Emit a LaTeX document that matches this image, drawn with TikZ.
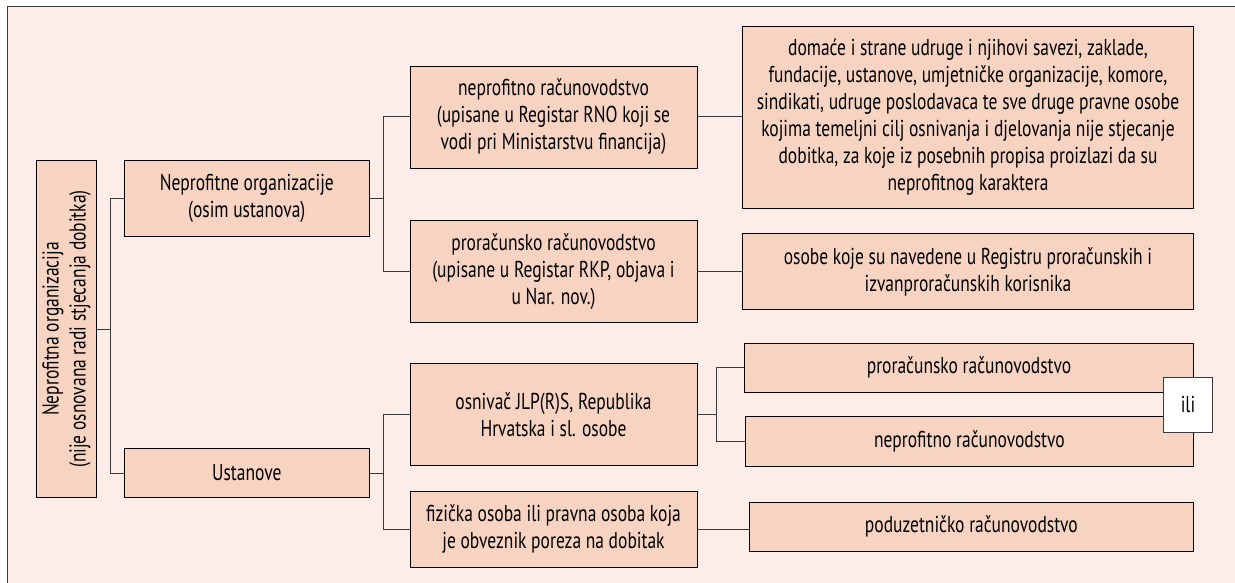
\documentclass[tikz,border=0pt]{standalone}
\usepackage{fontspec}
\setmainfont{PT Sans}[FakeStretch=0.76]
\definecolor{bgpink}{HTML}{FCEDE8}
\definecolor{boxfill}{HTML}{F7D4C2}
\definecolor{linegray}{HTML}{3A3A3A}
\tikzset{
  box/.style={draw=black, fill=boxfill, line width=0.8pt, inner sep=0pt, align=center,
    font=\fontsize{23}{27}\selectfont},
  orbox/.style={draw=linegray, fill=white, line width=0.8pt, inner sep=0pt, align=center,
    font=\fontsize{23}{27}\selectfont},
  conn/.style={draw=linegray, line width=1pt},
}
\begin{document}
\begin{tikzpicture}[x=1pt,y=-1pt]
\useasboundingbox (0,0) rectangle (1235,583);
\fill[bgpink] (7.5,6.5) rectangle (1235,583);
\draw[linegray, line width=1.2pt] (1235,6.5) -- (7.5,6.5) -- (7.5,583);

% level 0
\node[box, minimum width=60.2, minimum height=336.6] (root) at (66.6,329)
  {\rotatebox{90}{\begin{tabular}{@{}c@{}}Neprofitna organizacija\\(nije osnovana radi stjecanja dobitka)\end{tabular}}};

% level 1
\node[box, minimum width=245, minimum height=75.3] (npo) at (246.8,198.3)
  {Neprofitne organizacije\\(osim ustanova)};
\node[box, minimum width=245, minimum height=48.6] (ust) at (246.8,473) {Ustanove};

% level 2
\node[box, minimum width=287, minimum height=102] (nr) at (553.5,117)
  {neprofitno računovodstvo\\(upisane u Registar RNO koji se\\vodi pri Ministarstvu financija)};
\node[box, minimum width=287, minimum height=101.8] (pr) at (553.5,271.6)
  {proračunsko računovodstvo\\(upisane u Registar RKP, objava i\\u Nar. nov.)};
\node[box, minimum width=287, minimum height=102.4] (osn) at (553.5,414.5)
  {osnivač JLP(R)S, Republika\\Hrvatska i sl. osobe};
\node[box, minimum width=287, minimum height=76.3] (fiz) at (553.5,529.2)
  {fizička osoba ili pravna osoba koja\\je obveznik poreza na dobitak};

% level 3
\node[box, minimum width=451.4, minimum height=182.3] (dom) at (968,117.2)
  {domaće i strane udruge i njihovi savezi, zaklade,\\fundacije, ustanove, umjetničke organizacije, komore,\\sindikati, udruge poslodavaca te sve druge pravne osobe\\kojima temeljni cilj osnivanja i djelovanja nije stjecanje\\dobitka, za koje iz posebnih propisa proizlazi da su\\neprofitnog karaktera};
\node[box, minimum width=451.4, minimum height=76.2] (oso) at (968,271.4)
  {osobe koje su navedene u Registru proračunskih i\\izvanproračunskih korisnika};
\node[box, minimum width=449.4, minimum height=49] (pr2) at (969,367.8)
  {proračunsko računovodstvo};
\node[box, minimum width=448.7, minimum height=49.3] (nr2) at (969.35,441.35)
  {neprofitno računovodstvo};
\node[box, minimum width=444.7, minimum height=49] (pod) at (971.35,526.8)
  {poduzetničko računovodstvo};
\node[orbox, minimum width=49.4, minimum height=54.7] (ili) at (1188,404.7) {ili};

% bus coordinates
\coordinate (b1) at (110,0);
\coordinate (b2) at (383,0);
\coordinate (b3) at (716,0);

% connectors
\draw[conn] (root.east) -- (root.east -| b1);
\draw[conn] (npo.west) -- (npo.west -| b1) |- (ust.west);
\draw[conn] (npo.east) -- (npo.east -| b2);
\draw[conn] (nr.west) -- (nr.west -| b2) |- (pr.west);
\draw[conn] (ust.east) -- (ust.east -| b2);
\draw[conn] (osn.west) -- (osn.west -| b2) |- (fiz.west);
\draw[conn] (nr.east) -- (nr.east -| dom.west);
\draw[conn] (pr.east) -- (pr.east -| oso.west);
\draw[conn] (osn.east) -- (osn.east -| b3);
\draw[conn] (pr2.west) -- (pr2.west -| b3) |- (nr2.west);
\draw[conn] (fiz.east) -- (fiz.east -| pod.west);
\end{tikzpicture}
\end{document}
